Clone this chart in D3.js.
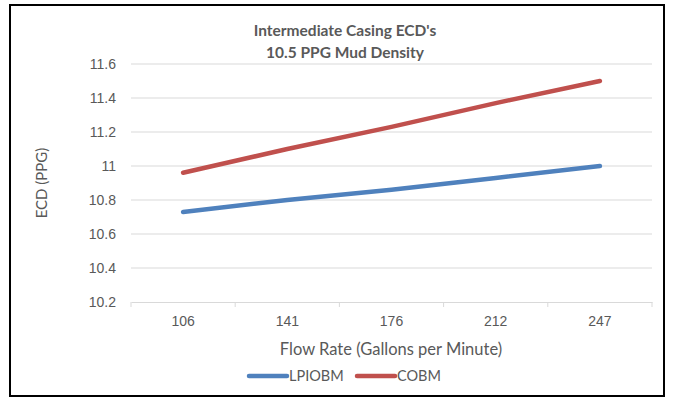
<!DOCTYPE html>
<html>
<head>
<meta charset="utf-8">
<script src="https://cdn.jsdelivr.net/npm/d3@7"></script>
<style>
  html, body { margin: 0; padding: 0; background: #fff; }
  svg { display: block; font-family: Lato, "Open Sans", sans-serif; }
</style>
</head>
<body>
<svg id="chart" width="673" height="401"></svg>
<script>
// Flow rates (gallons per minute) on the category axis
const flowRates = ["106", "141", "176", "212", "247"];
// ECD (ppg) for each fluid system
const lpiobm = [10.73, 10.80, 10.86, 10.93, 11.00];
const cobm   = [10.96, 11.10, 11.23, 11.37, 11.50];
const yTicks = [10.2, 10.4, 10.6, 10.8, 11, 11.2, 11.4, 11.6];

const series = [
  { name: "LPIOBM", values: lpiobm, color: "#4F81BD" },
  { name: "COBM",   values: cobm,   color: "#C0504D" }
];

const svg = d3.select("#chart");
const textColor = "#595959";
const gridColor = "#D9D9D9";

// Chart frame
svg.append("rect")
  .attr("x", 10).attr("y", 5).attr("width", 654).attr("height", 391)
  .attr("fill", "#fff").attr("stroke", "#000").attr("stroke-width", 2);

const plot = { left: 131, right: 652, top: 64, bottom: 302 };

const x = d3.scaleBand().domain(flowRates).range([plot.left, plot.right]);
const y = d3.scaleLinear().domain([10.2, 11.6]).range([plot.bottom, plot.top]);

// Horizontal gridlines
svg.append("g").selectAll("line")
  .data(yTicks.filter(t => t > 10.2))
  .join("line")
  .attr("x1", plot.left).attr("x2", plot.right)
  .attr("y1", d => y(d)).attr("y2", d => y(d))
  .attr("stroke", gridColor).attr("stroke-width", 1);

// Y axis labels
const yAxis = svg.append("g")
  .attr("transform", `translate(${plot.left},0)`)
  .call(d3.axisLeft(y).tickValues(yTicks).tickSize(0).tickPadding(15)
    .tickFormat(d => d3.format("")(+d.toFixed(1))));
yAxis.select(".domain").remove();
yAxis.selectAll("text").attr("fill", textColor).style("font-size", "14px");

// X axis with tick marks between categories
const xAxis = svg.append("g")
  .attr("transform", `translate(0,${plot.bottom})`)
  .call(d3.axisBottom(x).tickSize(0).tickPadding(14));
xAxis.select(".domain").attr("stroke", gridColor);
xAxis.selectAll("text").attr("fill", textColor).style("font-size", "14px");
const bounds = flowRates.map(d => x(d)).concat([x(flowRates[flowRates.length - 1]) + x.bandwidth()]);
xAxis.selectAll("line.sep").data(bounds).join("line")
  .attr("class", "sep")
  .attr("x1", d => d).attr("x2", d => d)
  .attr("y1", 0).attr("y2", 5)
  .attr("stroke", gridColor);

// Series lines
const line = d3.line()
  .x((d, i) => x(flowRates[i]) + x.bandwidth() / 2)
  .y(d => y(d));

svg.append("g").selectAll("path")
  .data(series)
  .join("path")
  .attr("d", s => line(s.values))
  .attr("fill", "none")
  .attr("stroke", s => s.color)
  .attr("stroke-width", 4.5)
  .attr("stroke-linecap", "round");

// Title
const title = svg.append("text")
  .attr("x", 345).attr("text-anchor", "middle")
  .attr("fill", textColor).style("font-size", "15.5px").style("font-weight", "bold");
title.append("tspan").attr("x", 345).attr("y", 36).text("Intermediate Casing ECD's");
title.append("tspan").attr("x", 345).attr("y", 58).text("10.5 PPG Mud Density");

// Axis titles
svg.append("text")
  .attr("transform", `translate(47,${(plot.top + plot.bottom) / 2}) rotate(-90)`)
  .attr("text-anchor", "middle")
  .attr("fill", textColor).style("font-size", "15px")
  .text("ECD (PPG)");

svg.append("text")
  .attr("x", 391).attr("y", 355).attr("text-anchor", "middle")
  .attr("fill", textColor).style("font-size", "16.5px")
  .text("Flow Rate (Gallons per Minute)");

// Legend
const legendItems = [
  { name: "LPIOBM", color: "#4F81BD", x: 249 },
  { name: "COBM", color: "#C0504D", x: 357 }
];
const lg = svg.append("g").selectAll("g").data(legendItems).join("g")
  .attr("transform", d => `translate(${d.x},376)`);
lg.append("line")
  .attr("x1", 0).attr("x2", 38).attr("y1", 0).attr("y2", 0)
  .attr("stroke", d => d.color).attr("stroke-width", 4.5).attr("stroke-linecap", "round");
lg.append("text")
  .attr("x", 40).attr("y", 5)
  .attr("fill", textColor).style("font-size", "14.5px")
  .text(d => d.name);
</script>
</body>
</html>
